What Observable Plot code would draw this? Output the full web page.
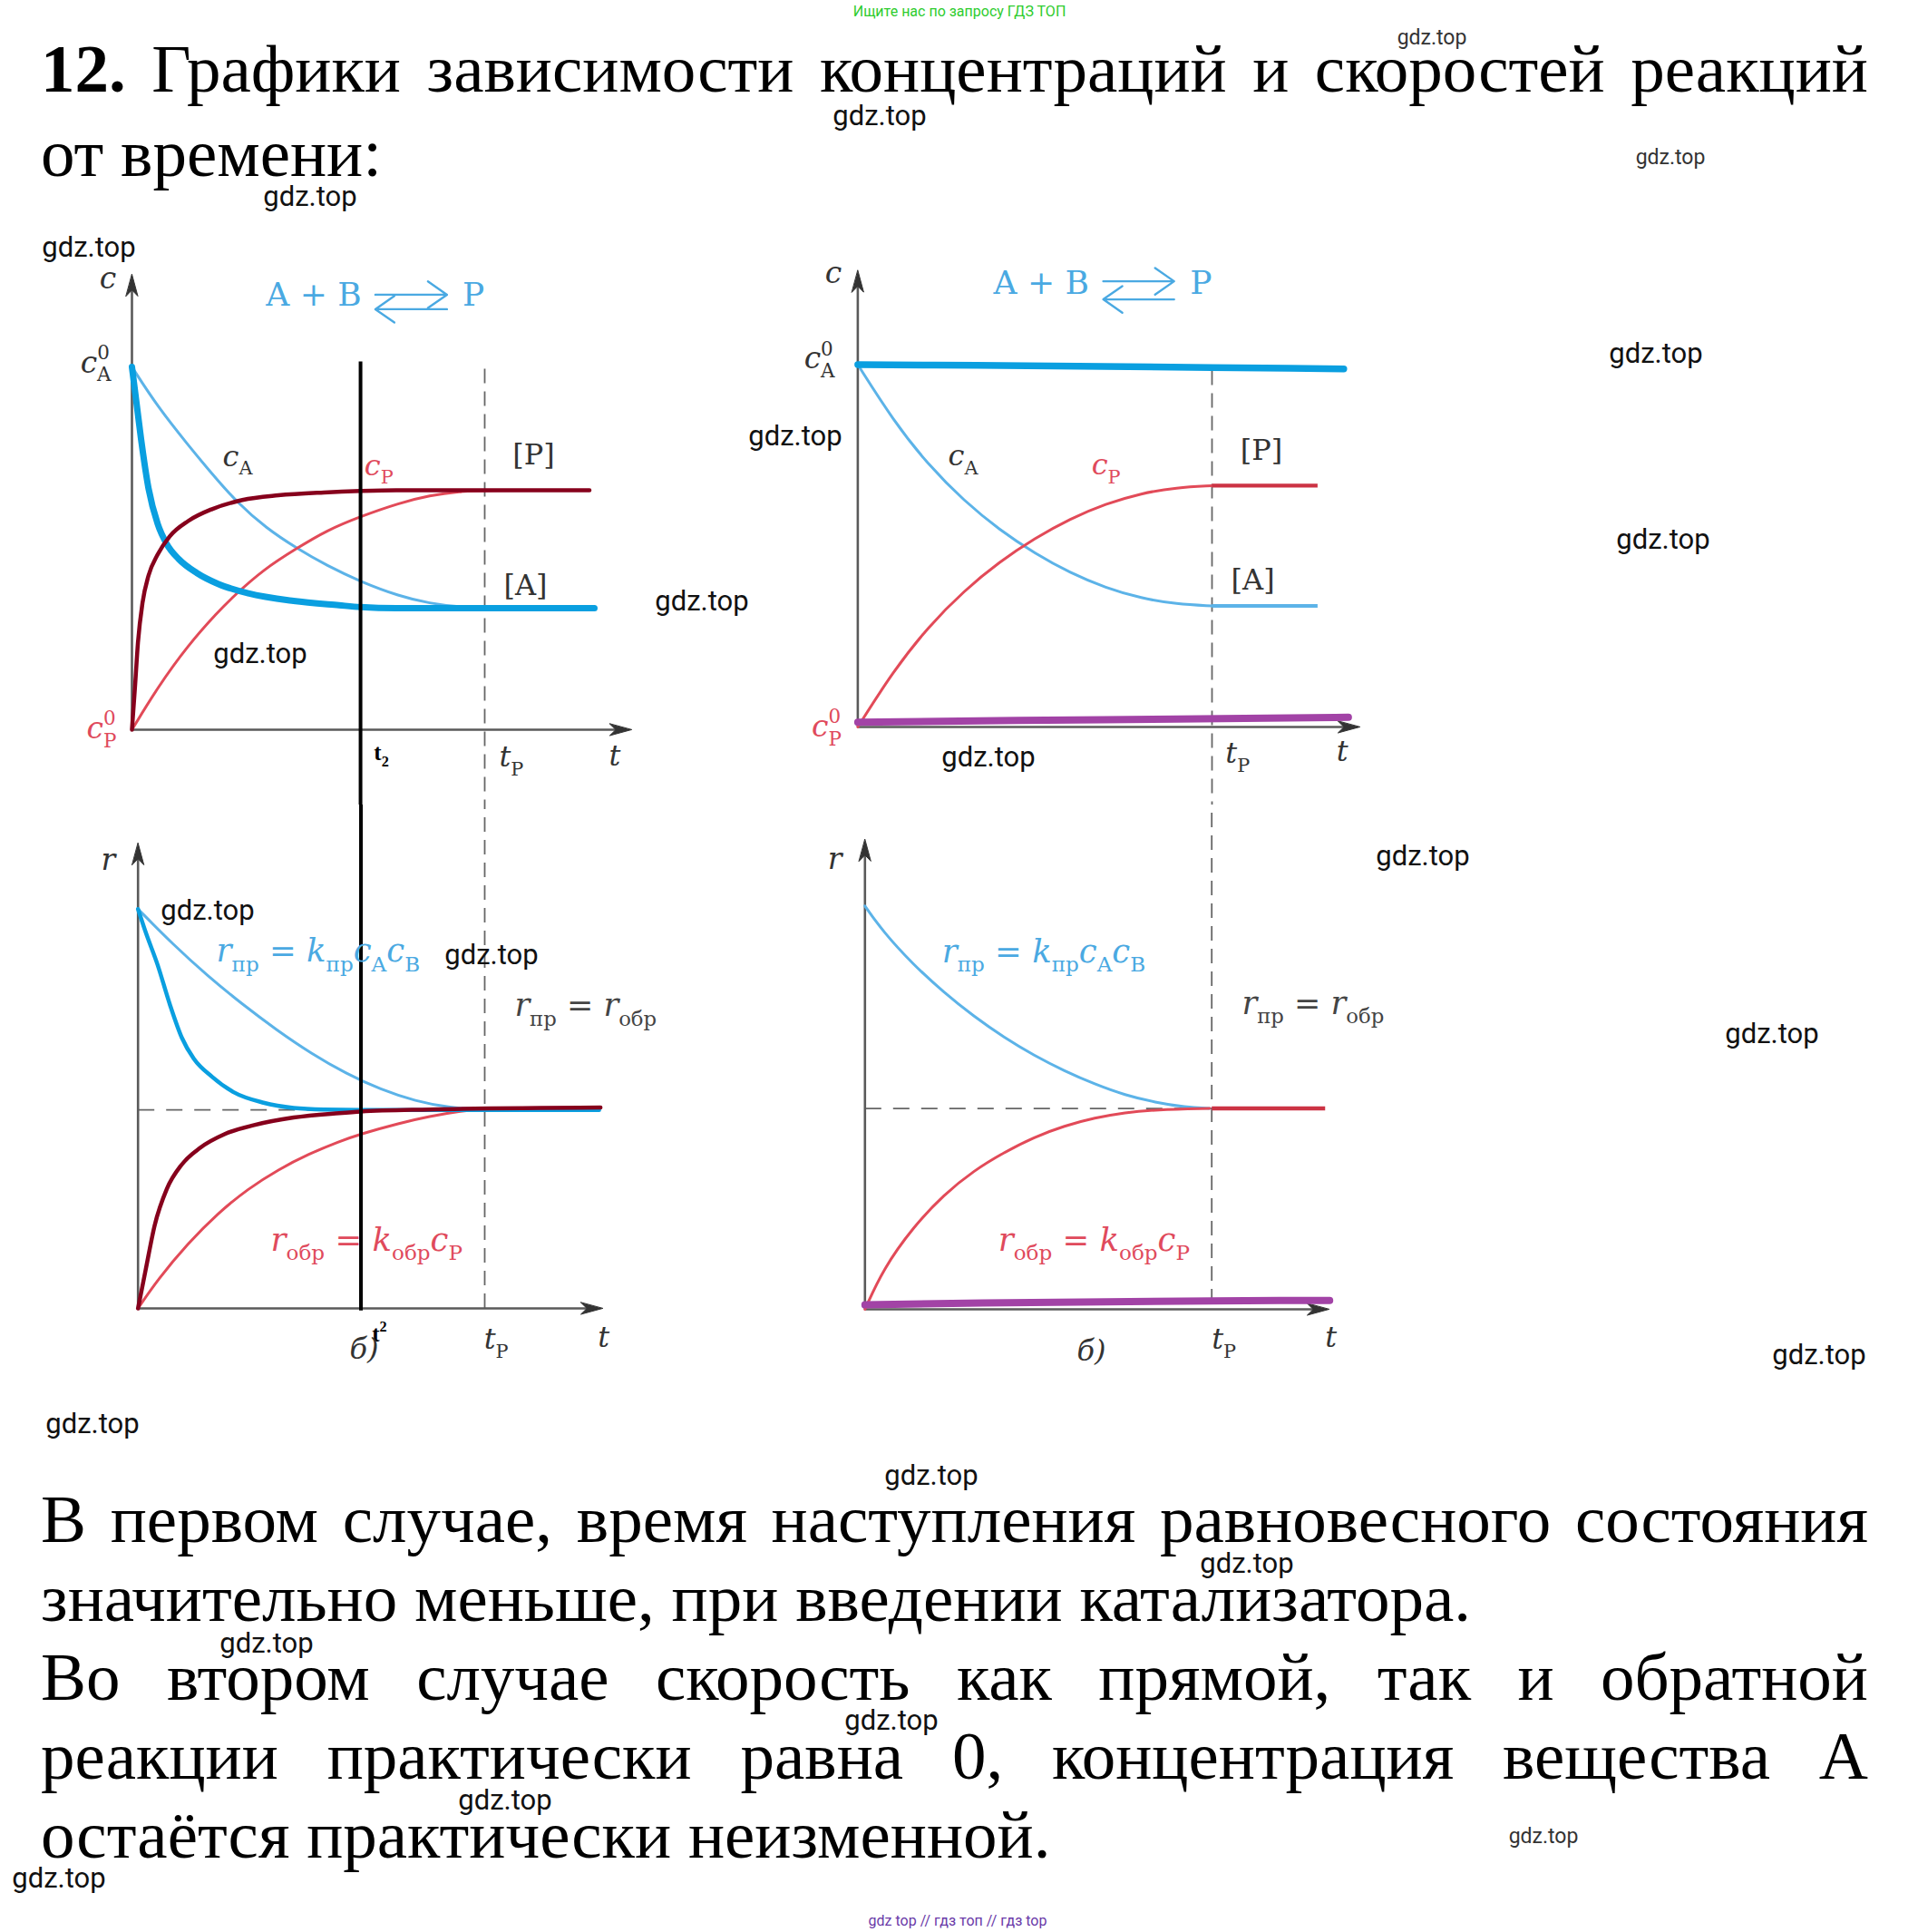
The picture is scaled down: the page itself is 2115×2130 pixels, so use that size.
<!DOCTYPE html>
<html>
<head>
<meta charset="utf-8">
<script src="https://cdn.jsdelivr.net/npm/d3@7"></script>
<script src="https://cdn.jsdelivr.net/npm/@observablehq/plot@0.6"></script>
<style>
html,body{margin:0;padding:0;background:#fff;}
#page{position:relative;width:2115px;height:2130px;overflow:hidden;background:#fff;}
.line{position:absolute;left:45px;width:2015px;font-family:"Liberation Serif","Times New Roman",serif;font-size:75px;line-height:75px;color:#000;white-space:pre;}
.just{display:flex;justify-content:space-between;}
.wm{position:absolute;font-family:Roboto,"Noto Sans",sans-serif;font-size:31px;color:#111;transform:translate(-50%,-50%);white-space:nowrap;z-index:5;}
.wm.s{font-size:23px;color:#333;}
.top{position:absolute;font-family:Roboto,"Noto Sans",sans-serif;font-size:16px;white-space:nowrap;transform:translate(-50%,-50%);}
</style>
</head>
<body>
<div id="page"></div>
<script>
// ---------------- DATA (t in units of t_P, values in units of c_A^0 / r_0) ----------------
// top-left: concentrations, without (thin) and with catalyst (thick)
const tlCaSlow = [[0,1],[0.073,0.89],[0.159,0.785],[0.227,0.705],[0.296,0.628],[0.381,0.555],[0.467,0.5],[0.553,0.452],[0.648,0.408],[0.758,0.368],[0.844,0.348],[0.93,0.338],[1.0,0.335],[1.311,0.335]];
const tlCpSlow = [[0,0],[0.073,0.117],[0.159,0.233],[0.244,0.325],[0.287,0.367],[0.373,0.442],[0.467,0.5],[0.553,0.55],[0.648,0.588],[0.758,0.625],[0.844,0.646],[0.93,0.657],[1.0,0.66],[1.297,0.66]];
const tlCaFast = [[0,1],[0.013,0.9],[0.026,0.8],[0.047,0.665],[0.073,0.567],[0.0985,0.512],[0.133,0.47],[0.184,0.432],[0.244,0.402],[0.33,0.376],[0.458,0.355],[0.587,0.343],[0.648,0.338],[0.75,0.335],[1.311,0.335]];
const tlCpFast = [[0,0],[0.0086,0.117],[0.017,0.24],[0.03,0.35],[0.047,0.425],[0.073,0.483],[0.107,0.533],[0.159,0.575],[0.227,0.608],[0.313,0.633],[0.415,0.646],[0.544,0.654],[0.648,0.658],[0.75,0.66],[1.297,0.66]];

// top-right: concentrations, normal (thin) and with inhibitor (thick, ~constant)
const trCa = [[0,1],[0.1,0.846],[0.2,0.722],[0.3,0.624],[0.4,0.544],[0.5,0.479],[0.6,0.425],[0.7,0.384],[0.8,0.355],[0.9,0.339],[1.0,0.334]];
const trCaEq = [[1.0,0.334],[1.298,0.334]];
const trCp = [[0,0],[0.1,0.154],[0.2,0.278],[0.3,0.376],[0.4,0.456],[0.5,0.521],[0.6,0.575],[0.7,0.616],[0.8,0.645],[0.9,0.661],[1.0,0.666]];
const trCpEq = [[1.0,0.666],[1.298,0.666]];
const trCaConst = [[0,1.0],[0.337,0.998],[1.0,0.992],[1.372,0.988]];
const trCpConst = [[0,0.013],[0.45,0.018],[0.9,0.022],[1.385,0.027]];

// bottom-left: rates
const blRfSlow = [[0,1],[0.1,0.912],[0.2,0.833],[0.3,0.762],[0.4,0.697],[0.5,0.638],[0.6,0.588],[0.7,0.548],[0.8,0.519],[0.9,0.502],[1.0,0.497],[1.33,0.497]];
const blRbSlow = [[0,0],[0.0566,0.072],[0.144,0.163],[0.231,0.239],[0.318,0.3],[0.405,0.348],[0.493,0.387],[0.58,0.418],[0.643,0.437],[0.754,0.464],[0.841,0.481],[0.928,0.494],[0.998,0.5],[1.33,0.5]];
const blRfFast = [[0,1],[0.0217,0.943],[0.0566,0.86],[0.0915,0.762],[0.1263,0.678],[0.161,0.625],[0.2135,0.58],[0.2745,0.542],[0.362,0.515],[0.449,0.502],[0.536,0.498],[0.643,0.497],[1.33,0.497]];
const blRbFast = [[0,0],[0.0217,0.095],[0.048,0.208],[0.083,0.299],[0.126,0.36],[0.179,0.402],[0.249,0.436],[0.335,0.459],[0.449,0.478],[0.58,0.489],[0.643,0.493],[0.841,0.498],[1.334,0.503]];

// bottom-right: rates
const brRf = [[0,1],[0.0524,0.936],[0.14,0.854],[0.227,0.786],[0.314,0.726],[0.401,0.674],[0.488,0.629],[0.575,0.591],[0.663,0.558],[0.75,0.531],[0.837,0.513],[0.924,0.501],[0.994,0.498]];
const brRb = [[0,0],[0.0524,0.1],[0.14,0.205],[0.227,0.284],[0.314,0.344],[0.401,0.389],[0.488,0.427],[0.575,0.455],[0.663,0.475],[0.75,0.488],[0.837,0.495],[0.994,0.498]];
const brReq = [[1.0,0.498],[1.327,0.498]];
const brRConst = [[0,0.011],[0.34,0.016],[1.0,0.021],[1.34,0.022]];

// special times and levels
const tP = 1;
const t2Top = 0.648, t2Bottom = 0.643;
const rEqLeft = 0.497, rEqRight = 0.498;

// texts
const titleLine1 = "12. Графики зависимости концентраций и скоростей реакций";
const titleLine2 = "от времени:";
const bodyLines = [
  ["В первом случае, время наступления равновесного состояния", true],
  ["значительно меньше, при введении катализатора.", false],
  ["Во втором случае скорость как прямой, так и обратной", true],
  ["реакции практически равна 0, концентрация вещества А", true],
  ["остаётся практически неизменной.", false]
];
const topNote = "Ищите нас по запросу ГДЗ ТОП";
const bottomNote = "gdz top // гдз топ // гдз top";
const watermark = "gdz.top";
const watermarks = [[1579,41,1],[970,127,0],[1842,173,1],[342,216,0],[98,272,0],[1826,389,0],[877,480,0],[1834,594,0],[774,662,0],[287,720,0],[1090,834,0],[1569,943,0],[229,1003,0],[542,1052,0],[1954,1139,0],[2006,1493,0],[102,1569,0],[1027,1626,0],[1375,1723,0],[294,1811,0],[983,1896,0],[557,1984,0],[1702,2024,1],[65,2070,0]];

// ---------------- STYLE ----------------
const C = {
  thickBlue: "#0a9fe0", thinBlue: "#5cb3e8", darkRed: "#86001c", thinRed: "#e24a58",
  eqRed: "#cc3344", purple: "#a243a6", axis: "#5a5a5a", head: "#333", dash: "#666",
  label: "#333", blueText: "#4aa9e2", redText: "#e04a5c", gray: "#444"
};
const SERIF = "DejaVu Serif";

const page = document.getElementById("page");
const ns = "http://www.w3.org/2000/svg";

// ---------------- helpers ----------------
const stealth = {draw(ctx, l, r) { ctx.moveTo(0, -l); ctx.lineTo(r, 0); ctx.lineTo(0, -l * 0.28); ctx.lineTo(-r, 0); ctx.closePath(); }};

function axes(tMax, vMax) {
  const marks = [
    Plot.link([{a: 0}], {x1: 0, y1: 0, x2: tMax * 0.985, y2: 0, stroke: C.axis, strokeWidth: 2.6}),
    Plot.link([{a: 0}], {x1: 0, y1: 0, x2: 0, y2: vMax * 0.985, stroke: C.axis, strokeWidth: 2.6})
  ];
  try {
    marks.push(Plot.vector([{t: tMax, v: 0}], {x: "t", y: "v", rotate: 90, length: 24, r: 6.5, anchor: "end", shape: stealth, fill: C.head, stroke: C.head, strokeWidth: 1}));
    marks.push(Plot.vector([{t: 0, v: vMax}], {x: "t", y: "v", rotate: 0, length: 24, r: 6.5, anchor: "end", shape: stealth, fill: C.head, stroke: C.head, strokeWidth: 1}));
  } catch (e) {
    marks.push(Plot.arrow([{a: 0}], {x1: tMax * 0.9, y1: 0, x2: tMax, y2: 0, stroke: C.head, strokeWidth: 2.6, headAngle: 35, headLength: 22}));
    marks.push(Plot.arrow([{a: 0}], {x1: 0, y1: vMax * 0.9, x2: 0, y2: vMax, stroke: C.head, strokeWidth: 2.6, headAngle: 35, headLength: 22}));
  }
  return marks;
}

function curve(data, stroke, width, cap = "round", kind = "monotone-x") {
  return Plot.line(data, {x: d => d[0], y: d => d[1], curve: kind, stroke, strokeWidth: width, strokeLinecap: cap, strokeLinejoin: "round"});
}
const smooth = (data, stroke, width) => curve(data, stroke, width, "round", "basis");

function vline(t, v1, v2, o) {
  return Plot.link([{t}], {x1: "t", x2: "t", y1: () => v1, y2: () => v2, ...o});
}

function lab(t, v, s, o = {}) {
  return Plot.text([{t, v, s}], {
    x: "t", y: "v", text: "s", lineAnchor: "bottom",
    fill: o.color ?? C.label, fontSize: o.size ?? 32, fontFamily: o.font ?? SERIF,
    fontWeight: o.weight ?? "normal", textAnchor: o.anchor ?? "start"
  });
}

function reaction(t0, v0, tArrow1, tArrow2, vTop, vBot, tP2) {
  return [
    lab(t0, v0, "n:A + B", {color: C.blueText, size: 36}),
    lab(tP2, v0, "n:P", {color: C.blueText, size: 36}),
    Plot.arrow([{a: 0}], {x1: tArrow1, y1: vTop, x2: tArrow2, y2: vTop, stroke: C.blueText, strokeWidth: 2.4, headAngle: 70, headLength: 16}),
    Plot.arrow([{a: 0}], {x1: tArrow2, y1: vBot, x2: tArrow1, y2: vBot, stroke: C.blueText, strokeWidth: 2.4, headAngle: 70, headLength: 16})
  ];
}

// rich text: "i:" italic, "n:" normal, "b:" subscript, "p:" superscript, "s:a,b" stacked sup/sub
function richText(svg) {
  svg.querySelectorAll("text").forEach(el => {
    const src = el.textContent;
    if (!/^[inbps]:/.test(src)) return;
    const F = parseFloat(getComputedStyle(el).fontSize) || 32;
    el.textContent = "";
    let shift = 0;
    const add = (txt, size, italic, dy, dx) => {
      const ts = document.createElementNS(ns, "tspan");
      ts.textContent = txt;
      ts.setAttribute("font-size", size * F);
      ts.setAttribute("font-style", italic ? "italic" : "normal");
      ts.setAttribute("dy", dy - shift);
      shift = dy;
      if (dx) ts.setAttribute("dx", dx);
      el.appendChild(ts);
    };
    for (const seg of src.split("~")) {
      const k = seg[0], txt = seg.slice(2);
      if (k === "i") add(txt, 1, true, 0, 0);
      else if (k === "n") add(txt, 1, false, 0, 0);
      else if (k === "b") add(txt, 0.65, false, 0.3 * F, 0);
      else if (k === "p") add(txt, 0.65, false, -0.42 * F, 0);
      else if (k === "s") {
        const [a, b] = txt.split(",");
        add(a, 0.65, false, -0.45 * F, 0);
        add(b, 0.65, false, 0.3 * F, -a.length * 0.64 * 0.65 * F);
      }
    }
  });
}

function panel(cfg) {
  const svg = Plot.plot({
    width: cfg.w, height: cfg.h,
    marginLeft: cfg.ml, marginRight: cfg.mr, marginTop: cfg.mt, marginBottom: cfg.mb,
    x: {domain: [0, 1.5], axis: null},
    y: {domain: [0, 1], axis: null},
    style: {background: "transparent", overflow: "hidden"},
    marks: cfg.marks
  });
  svg.style.position = "absolute";
  svg.style.left = cfg.left + "px";
  svg.style.top = cfg.top + "px";
  svg.style.maxWidth = "none";
  page.appendChild(svg);
  richText(svg);
}

// ---------------- PANELS ----------------
// top-left
panel({
  left: 0, top: 260, w: 760, h: 627, ml: 145, mr: 31.5, mt: 144, mb: 83,
  marks: [
    vline(tP, 0.995, -0.3, {stroke: C.dash, strokeWidth: 1.8, strokeDasharray: "16,9"}),
    ...axes(1.416, 1.255),
    smooth(tlCaSlow, C.thinBlue, 3),
    smooth(tlCpSlow, C.thinRed, 3),
    curve(tlCaFast, C.thickBlue, 7),
    curve(tlCpFast, C.darkRed, 4.5),
    vline(t2Top, 1.015, -0.3, {stroke: "#000", strokeWidth: 4}),
    lab(-0.068, 1.2175, "i:c", {size: 33, anchor: "middle"}),
    lab(-0.059, 0.985, "i:c~s:0,A", {size: 33, anchor: "end"}),
    lab(-0.044, -0.024, "i:c~s:0,P", {size: 33, anchor: "end", color: C.redText}),
    lab(0.257, 0.7275, "i:c~b:A", {size: 32}),
    lab(0.659, 0.7025, "i:c~b:P", {size: 32, color: C.redText}),
    lab(1.079, 0.7325, "n:[P]", {size: 32}),
    lab(1.054, 0.3715, "n:[A]", {size: 32}),
    lab(0.686, -0.0825, "n:t~b:2", {size: 25, font: "Liberation Serif", weight: "bold", color: "#000"}),
    lab(1.041, -0.101, "i:t~b:P", {size: 32}),
    lab(1.369, -0.0975, "i:t", {size: 32, anchor: "middle"}),
    ...reaction(0.38, 1.17, 0.69, 0.893, 1.199, 1.159, 0.937)
  ]
});

// top-right
panel({
  left: 800, top: 260, w: 760, h: 627, ml: 145.4, mr: 28.7, mt: 141.5, mb: 86,
  marks: [
    vline(tP, 0.984, -0.3, {stroke: C.dash, strokeWidth: 1.8, strokeDasharray: "16,9"}),
    ...axes(1.417, 1.26),
    smooth(trCa, C.thinBlue, 3),
    curve(trCaEq, C.thinBlue, 4, "butt"),
    smooth(trCp, C.thinRed, 3),
    curve(trCpEq, C.eqRed, 4.2, "butt"),
    curve(trCaConst, C.thickBlue, 7.5),
    curve(trCpConst, C.purple, 8),
    lab(-0.069, 1.2255, "i:c", {size: 33, anchor: "middle"}),
    lab(-0.065, 0.989, "i:c~s:0,A", {size: 33, anchor: "end"}),
    lab(-0.046, -0.0265, "i:c~s:0,P", {size: 33, anchor: "end", color: C.redText}),
    lab(0.255, 0.721, "i:c~b:A", {size: 32}),
    lab(0.66, 0.696, "i:c~b:P", {size: 32, color: C.redText}),
    lab(1.08, 0.736, "n:[P]", {size: 32}),
    lab(1.054, 0.379, "n:[A]", {size: 32}),
    lab(1.038, -0.1, "i:t~b:P", {size: 32}),
    lab(1.368, -0.095, "i:t", {size: 32, anchor: "middle"}),
    ...reaction(0.383, 1.196, 0.693, 0.893, 1.23, 1.18, 0.938)
  ]
});

// bottom-left
panel({
  left: 0, top: 887, w: 760, h: 643, ml: 151.7, mr: 34.85, mt: 114.7, mb: 88,
  marks: [
    vline(tP, 1.4, 0, {stroke: C.dash, strokeWidth: 1.8, strokeDasharray: "16,9"}),
    Plot.link([{a: 0}], {x1: 0, x2: tP, y1: rEqLeft, y2: rEqLeft, stroke: C.dash, strokeWidth: 1.8, strokeDasharray: "18,13"}),
    ...axes(1.34, 1.165),
    smooth(blRfSlow, C.thinBlue, 3),
    smooth(blRbSlow, C.thinRed, 3),
    curve(blRfFast, C.thickBlue, 4.5),
    curve(blRbFast, C.darkRed, 4.5),
    vline(t2Bottom, 1.4, -0.005, {stroke: "#000", strokeWidth: 4}),
    lab(-0.086, 1.099, "i:r", {size: 33, anchor: "middle"}),
    lab(0.226, 0.868, "i:r~b:пр~n: = ~i:k~b:пр~i:c~b:A~i:c~b:B", {size: 35.5, color: C.blueText}),
    lab(1.086, 0.732, "i:r~b:пр~n: = ~i:r~b:обр", {size: 35, color: C.gray}),
    lab(0.383, 0.145, "i:r~b:обр~n: = ~i:k~b:обр~i:c~b:P", {size: 35.5, color: C.redText}),
    lab(0.675, -0.082, "n:t~p:2", {size: 25, font: "Liberation Serif", weight: "bold", color: "#000"}),
    lab(0.652, -0.127, "i:б)", {size: 32, anchor: "middle"}),
    lab(0.998, -0.101, "i:t~b:P", {size: 32}),
    lab(1.343, -0.096, "i:t", {size: 32, anchor: "middle"})
  ]
});

// bottom-right
panel({
  left: 800, top: 887, w: 760, h: 643, ml: 153.3, mr: 33.1, mt: 111.3, mb: 87,
  marks: [
    vline(tP, 1.4, 0.02, {stroke: C.dash, strokeWidth: 1.8, strokeDasharray: "16,9"}),
    Plot.link([{a: 0}], {x1: 0, x2: tP, y1: rEqRight, y2: rEqRight, stroke: C.dash, strokeWidth: 1.8, strokeDasharray: "18,13"}),
    ...axes(1.338, 1.165),
    smooth(brRf, C.thinBlue, 3),
    smooth(brRb, C.thinRed, 3),
    curve(brReq, C.eqRed, 4.5, "butt"),
    curve(brRConst, C.purple, 8),
    lab(-0.087, 1.091, "i:r", {size: 33, anchor: "middle"}),
    lab(0.222, 0.861, "i:r~b:пр~n: = ~i:k~b:пр~i:c~b:A~i:c~b:B", {size: 35.5, color: C.blueText}),
    lab(1.087, 0.732, "i:r~b:пр~n: = ~i:r~b:обр", {size: 35, color: C.gray}),
    lab(0.384, 0.1455, "i:r~b:обр~n: = ~i:k~b:обр~i:c~b:P", {size: 35.5, color: C.redText}),
    lab(0.653, -0.128, "i:б)", {size: 32, anchor: "middle"}),
    lab(1.0, -0.098, "i:t~b:P", {size: 32}),
    lab(1.344, -0.093, "i:t", {size: 32, anchor: "middle"})
  ]
});

// ---------------- TEXT ----------------
function textLine(str, top, justify, boldFirst) {
  const d = document.createElement("div");
  d.className = "line" + (justify ? " just" : "");
  d.style.top = top + "px";
  if (justify) {
    str.split(" ").forEach((w, i) => {
      const s = document.createElement("span");
      s.textContent = w;
      if (boldFirst && i === 0) s.style.fontWeight = "bold";
      d.appendChild(s);
    });
  } else {
    d.textContent = str;
  }
  page.appendChild(d);
}
textLine(titleLine1, 38, true, true);
textLine(titleLine2, 131, false, false);
bodyLines.forEach(([s, j], i) => textLine(s, 1637 + i * 87, j, false));

const tn = document.createElement("div");
tn.className = "top"; tn.textContent = topNote;
tn.style.left = "1058px"; tn.style.top = "12px"; tn.style.color = "#2ecc2e";
page.appendChild(tn);
const bn = document.createElement("div");
bn.className = "top"; bn.textContent = bottomNote;
bn.style.left = "1056px"; bn.style.top = "2117px"; bn.style.color = "#6a3aa8";
page.appendChild(bn);

watermarks.forEach(([x, y, small]) => {
  const w = document.createElement("div");
  w.className = "wm" + (small ? " s" : "");
  w.textContent = watermark;
  w.style.left = x + "px"; w.style.top = y + "px";
  page.appendChild(w);
});
</script>
</body>
</html>
